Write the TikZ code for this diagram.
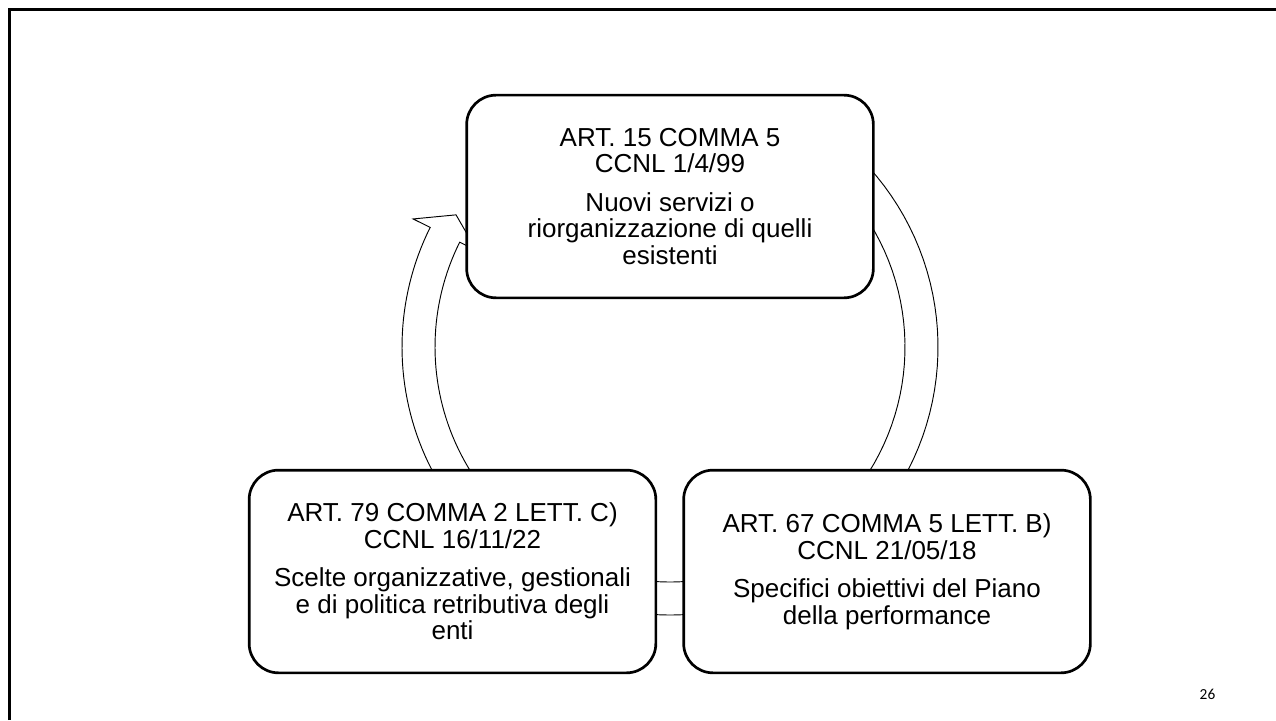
\documentclass[tikz,border=0pt]{standalone}
\usepackage{fontspec}
\setmainfont{Liberation Sans}
\newfontfamily\numfont{Carlito}
\begin{document}
\begin{tikzpicture}[x=0.75pt,y=-0.75pt,
  cbox/.style={draw, line width=2pt, rounded corners=22pt, fill=white,
    minimum width=305pt, minimum height=152pt, inner sep=0pt, align=center,
    font=\fontsize{19.5}{20}\selectfont},
  cyc/.style={draw, line width=0.7pt, fill=white, line join=miter}]
\useasboundingbox (0,0) rectangle (1276,720);
\draw[line width=2pt] (9.7,720) -- (9.7,9.7) -- (1276,9.7);
% circular block arrows
\newcommand\cycarrow[3]{%
  \draw[cyc] plot[domain=#1:#2, samples=40] ({268*cos(\x)},{268*sin(\x)})
    -- (#2:287) -- (#3:251.5) -- (#2:216)
    -- plot[domain=#2:#1, samples=40] ({235*cos(\x)},{235*sin(\x)}) -- cycle;}
\begin{scope}[shift={(670,347)}, yscale=-1]
  \cycarrow{60}{-40}{-45.2}
  \cycarrow{-72}{-100}{-105.2}
  \cycarrow{215}{153.5}{148.3}
\end{scope}
\node[cbox] (top) at (670,196.5) {ART. 15 COMMA 5\\CCNL 1/4/99\\[8.7pt]Nuovi servizi o\\riorganizzazione di quelli\\esistenti};
\node[cbox] (left) at (452.5,571.5) {ART. 79 COMMA 2 LETT. C)\\CCNL 16/11/22\\[8.7pt]Scelte organizzative, gestionali\\e di politica retributiva degli\\enti};
\node[cbox] (right) at (887,571.5) {ART. 67 COMMA 5 LETT. B)\\CCNL 21/05/18\\[8.7pt]Specifici obiettivi del Piano\\della performance};
\node[font=\numfont\fontsize{11.5}{12}\selectfont, inner sep=0pt] (num) at (1207.5,694.5) {26};
\end{tikzpicture}
\end{document}
